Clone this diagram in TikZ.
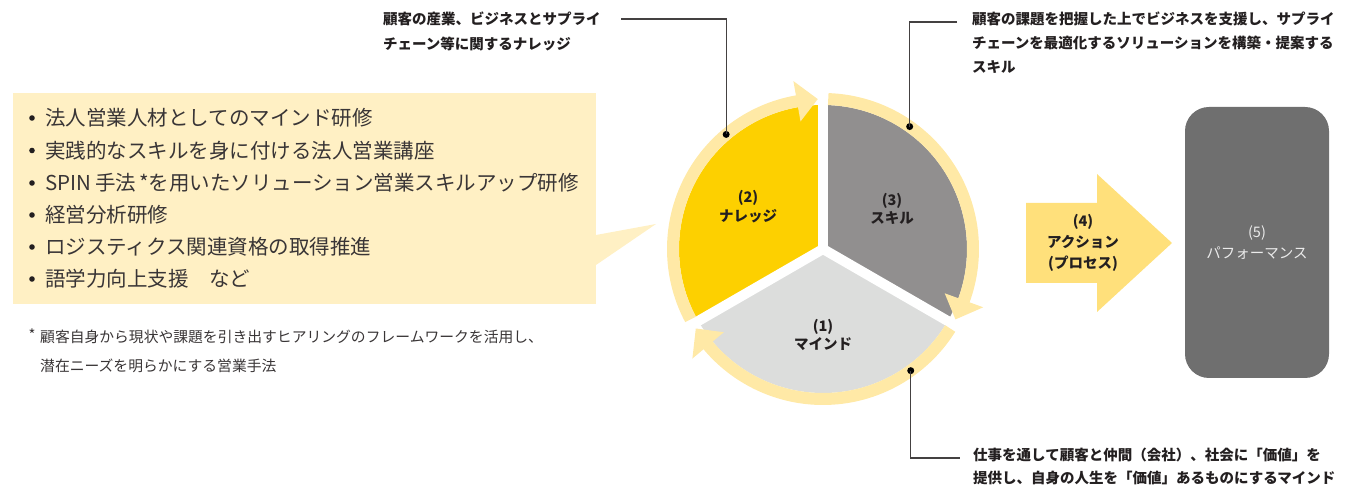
\documentclass[tikz,border=0pt]{standalone}
\usepackage{fontspec}
\setmainfont{Noto Sans CJK JP}
\usetikzlibrary{calc}
\definecolor{secY}{HTML}{FDD000}
\definecolor{secG}{HTML}{918F8F}
\definecolor{secL}{HTML}{DCDDDC}
\definecolor{ringY}{HTML}{FFE9A6}
\definecolor{bubY}{HTML}{FFF0C4}
\definecolor{actY}{HTML}{FFE07B}
\definecolor{perfG}{HTML}{6F6F6F}
\definecolor{txt}{HTML}{231F20}
\tikzset{
  lead/.style={draw=txt!85, line width=1.1pt},
  dotmark/.style={circle, fill=black, inner sep=0pt, minimum size=7pt},
  bt/.style={font=\fontsize{14.5}{23.5}\selectfont\bfseries, text=txt, inner sep=0pt, anchor=west, text height=12.8pt, text depth=1.7pt},
  bl/.style={font=\fontsize{20.5}{24}\selectfont, text=txt!90, inner sep=0pt, anchor=west, text height=18pt, text depth=2.5pt},
  fn/.style={font=\fontsize{14.8}{20}\selectfont, text=txt!90, inner sep=0pt, anchor=west, text height=13pt, text depth=1.8pt},
  lab/.style={font=\fontsize{14.5}{18.5}\selectfont\bfseries, text=txt, align=center, inner sep=0pt},
  ringarc/.style={draw=ringY, line width=12pt},
  perfbox/.style={fill=perfG, rounded corners=24pt, minimum width=144pt, minimum height=271pt, inner sep=0pt,
     font=\fontsize{14.5}{21}\selectfont, text=white!92!black, align=center}
}
\begin{document}
\begin{tikzpicture}[x=1pt,y=1pt]
\useasboundingbox (0,0) rectangle (1350,489);
% ---------- callout bubble ----------
\fill[bubY] (13,185) rectangle (596,396);
\fill[bubY] (596,224) -- (656,265) -- (596,254) -- cycle;
\foreach \yy in {371,338.5,306,274,242,210} \fill[txt] (32,\yy) circle (2.8pt);
\node[bl] (b1) at (45,371) {法人営業人材としてのマインド研修};
\node[bl] (b2) at (45,338.5) {実践的なスキルを身に付ける法人営業講座};
\node[bl] (b3) at (45,306) {SPIN\hspace{4pt}手法\hspace{3pt}*を用いたソリューション営業スキルアップ研修};
\node[bl] (b4) at (45,274) {経営分析研修};
\node[bl] (b5) at (45,242) {ロジスティクス関連資格の取得推進};
\node[bl] (b6) at (45,210) {語学力向上支援　など};
% footnote
\node[fn, anchor=center] (ast) at (32,154) {*};
\node[fn] (f1) at (40,152) {顧客自身から現状や課題を引き出すヒアリングのフレームワークを活用し、};
\node[fn] (f2) at (40,123) {潜在ニーズを明らかにする営業手法};
% ---------- pie ----------
\coordinate (C) at (823,240);
\fill[secY] (C) -- ($(C)+(90:144)$) arc[start angle=90,end angle=210,radius=144] -- cycle;
\fill[secG] (C) -- ($(C)+(-30:144)$) arc[start angle=-30,end angle=90,radius=144] -- cycle;
\fill[secL] (C) -- ($(C)+(210:144)$) arc[start angle=210,end angle=330,radius=144] -- cycle;
\foreach \a in {90,210,330} \draw[white,line width=10pt] (C) -- ($(C)+(\a:145)$);
\fill[white] (C) circle (5pt);
% ring arrows (clockwise)
\draw[ringarc] ($(C)+(208:150)$) arc[start angle=208,end angle=99.6,radius=150];
\fill[ringY] ($(C)+(100:129.5)$) -- ($(C)+(100:170.5)$) -- ($(C)+(92:150)$) -- cycle;
\draw[ringarc] ($(C)+(88:150)$) arc[start angle=88,end angle=-20.4,radius=150];
\fill[ringY] ($(C)+(-20:129.5)$) -- ($(C)+(-20:170.5)$) -- ($(C)+(-28:150)$) -- cycle;
\draw[ringarc] ($(C)+(328:150)$) arc[start angle=328,end angle=219.6,radius=150];
\fill[ringY] ($(C)+(220:129.5)$) -- ($(C)+(220:170.5)$) -- ($(C)+(212:150)$) -- cycle;
% sector labels
\node[lab] (s2) at (748,282.5) {(2)\\ナレッジ};
\node[lab] (s3) at (892,280) {(3)\\スキル};
\node[lab] (s1) at (823,154) {(1)\\マインド};
% ---------- leaders ----------
\node[dotmark] (d2) at ($(C)+(130.2:150)$) {};
\node[dotmark] (d3) at ($(C)+(54.7:150)$) {};
\node[dotmark] (d1) at ($(C)+(-54.2:150)$) {};
\coordinate (l2) at (621,470);
\coordinate (l3) at (957,467);
\coordinate (l1) at (960,31);
\draw[lead] (l2) -| (d2.center);
\draw[lead] (l3) -| (d3.center);
\draw[lead] (d1.center) |- (l1);
\node[bt] (t2a) at (383,470) {顧客の産業、ビジネスとサプライ};
\node[bt] (t2b) at (383,445) {チェーン等に関するナレッジ};
\node[bt] (t3a) at (972,470) {顧客の課題を把握した上でビジネスを支援し、サプライ};
\node[bt] (t3b) at (972,446) {チェーンを最適化するソリューションを構築・提案する};
\node[bt] (t3c) at (972,422) {スキル};
\node[bt] (t1a) at (973,34) {仕事を通して顧客と仲間（会社）、社会に「価値」を};
\node[bt] (t1b) at (973,11) {提供し、自身の人生を「価値」あるものにするマインド};
% ---------- action arrow ----------
\fill[actY] (1026,206) -- (1097,206) -- (1097,177) -- (1172,246) -- (1097,315) -- (1097,286) -- (1026,286) -- cycle;
\node[lab, font=\fontsize{14.5}{21}\selectfont\bfseries] (s4) at (1083,246) {(4)\\アクション\\(プロセス)};
% ---------- performance ----------
\node[perfbox] (s5) at (1257,246.5) {(5)\\パフォーマンス};
\end{tikzpicture}
\end{document}
